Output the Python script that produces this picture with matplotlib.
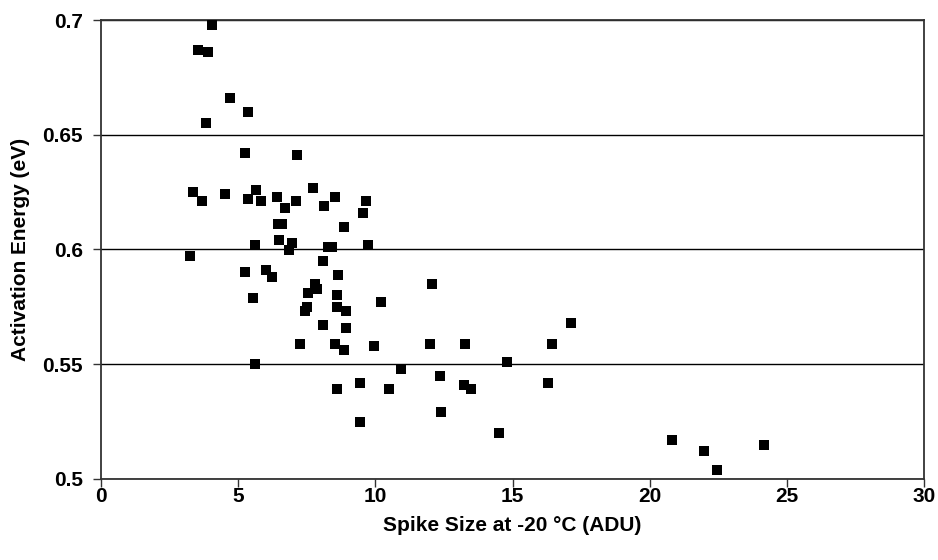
import matplotlib.pyplot as plt
from matplotlib.ticker import MultipleLocator, FormatStrFormatter

# spike size at -20 C (ADU) and activation energy (eV) for each pixel
spike_size = [
    4.06, 3.55, 3.90, 4.70, 5.36, 3.84, 5.26, 7.15, 3.35, 3.69,
    4.51, 5.64, 5.35, 5.83, 6.41, 6.70, 7.10, 7.74, 8.14, 8.53,
    9.66, 9.55, 8.85, 6.45, 6.58, 5.60, 6.50, 6.95, 6.85, 8.26,
    8.41, 9.75, 8.09, 3.26, 6.00, 6.25, 5.25, 8.64, 12.05, 7.80,
    7.86, 7.56, 5.55, 8.60, 10.19, 7.50, 7.44, 8.60, 8.94, 8.09,
    8.94, 7.24, 8.54, 8.86, 9.95, 11.99, 13.28, 5.60, 10.95, 12.36,
    13.24, 13.50, 9.44, 8.60, 10.50, 12.40, 9.44, 17.14, 16.45, 14.79,
    16.31, 14.51, 20.80, 21.99, 22.44, 24.16,
]
activation_energy = [
    0.698, 0.687, 0.686, 0.666, 0.660, 0.655, 0.642, 0.641, 0.625, 0.621,
    0.624, 0.626, 0.622, 0.621, 0.623, 0.618, 0.621, 0.627, 0.619, 0.623,
    0.621, 0.616, 0.610, 0.611, 0.611, 0.602, 0.604, 0.603, 0.600, 0.601,
    0.601, 0.602, 0.595, 0.597, 0.591, 0.588, 0.590, 0.589, 0.585, 0.585,
    0.583, 0.581, 0.579, 0.580, 0.577, 0.575, 0.573, 0.575, 0.573, 0.567,
    0.566, 0.559, 0.559, 0.556, 0.558, 0.559, 0.559, 0.550, 0.548, 0.545,
    0.541, 0.539, 0.542, 0.539, 0.539, 0.529, 0.525, 0.568, 0.559, 0.551,
    0.542, 0.520, 0.517, 0.512, 0.504, 0.515,
]

FONT = 'Liberation Sans'
FONT_SIZE = 15

fig = plt.figure(figsize=(9.38, 5.6), dpi=100)
ax = fig.add_axes([101 / 938, 1 - 479 / 560, 823 / 938, 459 / 560])

ax.plot(spike_size, activation_energy, linestyle='none', marker='s',
        markersize=7.8, markeredgewidth=0, color='black', zorder=3, clip_on=False)

ax.set_xlim(0, 30)
ax.set_ylim(0.5, 0.7)
ax.xaxis.set_major_locator(MultipleLocator(5))
ax.yaxis.set_major_locator(MultipleLocator(0.05))
ax.yaxis.set_major_formatter(FormatStrFormatter('%g'))

ax.grid(True, axis='y', color='black', linewidth=1.0)
ax.set_axisbelow(True)
for side in ax.spines.values():
    side.set_color('#333333')
    side.set_linewidth(1.3)

ax.tick_params(axis='both', direction='out', length=6, width=1, color='#333333')
ax.tick_params(axis='y', pad=7)
ax.tick_params(axis='x', pad=0)
for lbl in ax.get_xticklabels() + ax.get_yticklabels():
    lbl.set_fontfamily(FONT)
    lbl.set_fontweight('bold')
    lbl.set_fontsize(FONT_SIZE)

ax.set_xlabel('Spike Size at -20 °C (ADU)', family=FONT, fontsize=FONT_SIZE,
              fontweight='bold', labelpad=7)
ax.set_ylabel('Activation Energy (eV)', family=FONT, fontsize=FONT_SIZE,
              fontweight='bold', labelpad=9)

fig.savefig('out.png', dpi=100)
